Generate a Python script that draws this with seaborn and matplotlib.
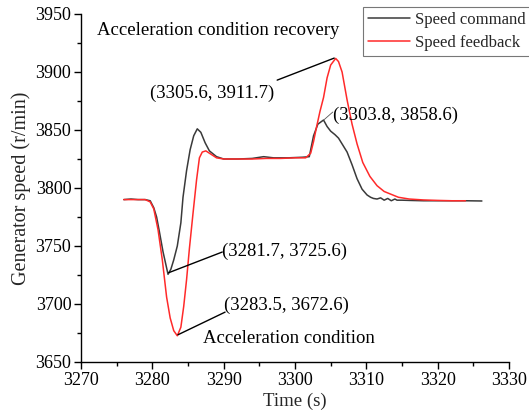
import numpy as np
import pandas as pd
import matplotlib
matplotlib.use("Agg")
import matplotlib.pyplot as plt
import seaborn as sns
from matplotlib.ticker import MultipleLocator

cmd_t = [3276, 3277, 3278, 3279, 3279.7, 3280.2, 3280.6, 3281.0, 3281.5, 3282.2, 3282.6, 3283.0,
         3283.5, 3284.0, 3284.3, 3284.8, 3285.3, 3285.8, 3286.3, 3286.8, 3287.4, 3288.0, 3289.0,
         3290, 3292, 3294, 3295.6, 3297, 3299, 3301, 3302.0, 3302.6, 3303.2, 3304.0, 3304.5,
         3305.0, 3305.6, 3306.1, 3306.7, 3307.3, 3308.0, 3308.7, 3309.4, 3310.1, 3310.6, 3311,
         3311.5, 3312, 3312.5, 3313, 3313.5, 3314, 3314.3, 3315, 3316, 3318, 3320, 3322, 3324, 3326.2]
cmd_v = [3790, 3790.5, 3790, 3790, 3789, 3783, 3775, 3762, 3745, 3725.6, 3730, 3738,
         3750, 3770, 3792, 3815, 3833, 3845, 3851, 3848, 3839, 3832, 3827,
         3825, 3825, 3825.5, 3827, 3826, 3826, 3826.5, 3827, 3845, 3855, 3858.6, 3853,
         3849, 3846, 3843, 3837, 3831, 3820, 3808, 3799, 3794, 3792, 3791,
         3790.5, 3791.5, 3789.5, 3791, 3789, 3790.5, 3789.5, 3789.5, 3789.3, 3789, 3789, 3789, 3789, 3788.8]

fb_t = [3276, 3277, 3278, 3279, 3279.7, 3280.2, 3280.8, 3281.4, 3282.0, 3282.5, 3283.0, 3283.5,
        3284.0, 3284.4, 3284.8, 3285.2, 3285.7, 3286.2, 3286.6, 3287.0, 3287.5, 3288, 3289, 3290,
        3292, 3294, 3296, 3298, 3300, 3301.5, 3302.2, 3302.6, 3303.0, 3303.5, 3304.0, 3304.5,
        3305.0, 3305.7, 3306.1, 3306.6, 3307.3, 3308.0, 3308.7, 3309.5, 3310.5, 3311.5, 3312.5,
        3313.3, 3314.5, 3316, 3318, 3320, 3322, 3323.9]
fb_v = [3790, 3790, 3790, 3790, 3788, 3782, 3764, 3738, 3706, 3688, 3677, 3672.6,
        3680, 3698, 3721, 3748, 3778, 3807, 3826, 3831, 3832, 3830, 3826, 3825,
        3825, 3825, 3825.5, 3825.5, 3826, 3826, 3830, 3840, 3852, 3866, 3878, 3895,
        3906, 3911.7, 3909, 3900, 3876, 3855, 3838, 3822, 3810, 3802, 3797,
        3795, 3792, 3790.5, 3789.7, 3789.3, 3789, 3789]

series_names = ["Speed command", "Speed feedback"]
colors = ["#3a3a3a", "#ff2a2a"]

df = pd.concat([
    pd.DataFrame({"t": cmd_t, "v": cmd_v, "s": series_names[0]}),
    pd.DataFrame({"t": fb_t, "v": fb_v, "s": series_names[1]}),
])

sns.set_theme(style="ticks")
plt.rcParams['font.family'] = ['Liberation Serif', 'DejaVu Serif']

fig = plt.figure(figsize=(5.29, 4.13), dpi=100)
ax = fig.add_axes([81/529, 1-362/413, (509-81)/529, (362-14)/413])

sns.lineplot(data=df, x="t", y="v", hue="s", palette=colors, ax=ax, lw=1.1,
             estimator=None, sort=False, legend=True)

ax.set_xlim(3270, 3330)
ax.set_ylim(3650, 3950)
ax.xaxis.set_major_locator(MultipleLocator(10))
ax.xaxis.set_minor_locator(MultipleLocator(5))
ax.yaxis.set_major_locator(MultipleLocator(50))
ax.yaxis.set_minor_locator(MultipleLocator(25))
ax.tick_params(axis='both', which='major', direction='out', length=5, width=1,
               labelsize=13, colors='black', pad=2)
ax.tick_params(axis='both', which='minor', direction='out', length=3, width=1, colors='black')
for s in ['top', 'right']:
    ax.spines[s].set_visible(False)
for s in ['left', 'bottom']:
    ax.spines[s].set_color('black')
    ax.spines[s].set_linewidth(1)
ax.set_xlabel("Time (s)", fontsize=13.5, labelpad=3)
ax.set_ylabel("Generator speed (r/min)", fontsize=14.5, labelpad=3)

leg = ax.legend(loc='upper left', bbox_to_anchor=(363/529, 1-7/413),
                bbox_transform=fig.transFigure, fontsize=12, frameon=True,
                fancybox=False, borderpad=0.3, handlelength=2.5, handletextpad=0.3,
                labelspacing=0.4, borderaxespad=0)
leg.get_frame().set_edgecolor('#555555')
leg.get_frame().set_linewidth(0.8)

tkw = dict(fontsize=13.5, color='black', va='center', ha='left')
ax.text(3272.2, 3936, "Acceleration condition recovery", **tkw)
ax.text(3279.7, 3882, "(3305.6, 3911.7)", **tkw)
ax.text(3305.35, 3863, "(3303.8, 3858.6)", **tkw)
ax.text(3289.8, 3745, "(3281.7, 3725.6)", **tkw)
ax.text(3290.05, 3699, "(3283.5, 3672.6)", **tkw)
ax.text(3287.1, 3670, "Acceleration condition", **tkw)

ap = dict(arrowstyle='-', lw=1, color='black', shrinkA=0, shrinkB=0)
ax.annotate('', xy=(3305.5, 3912), xytext=(3297.5, 3893), arrowprops=ap)
ax.annotate('', xy=(3304.1, 3859), xytext=(3305.3, 3865.5), arrowprops=dict(ap, lw=0.6, color='#555555'))
ax.annotate('', xy=(3282.3, 3727), xytext=(3289.8, 3744.8), arrowprops=ap)
ax.annotate('', xy=(3283.6, 3673.5), xytext=(3290.2, 3693), arrowprops=ap)

fig.savefig("out.png", dpi=100)
